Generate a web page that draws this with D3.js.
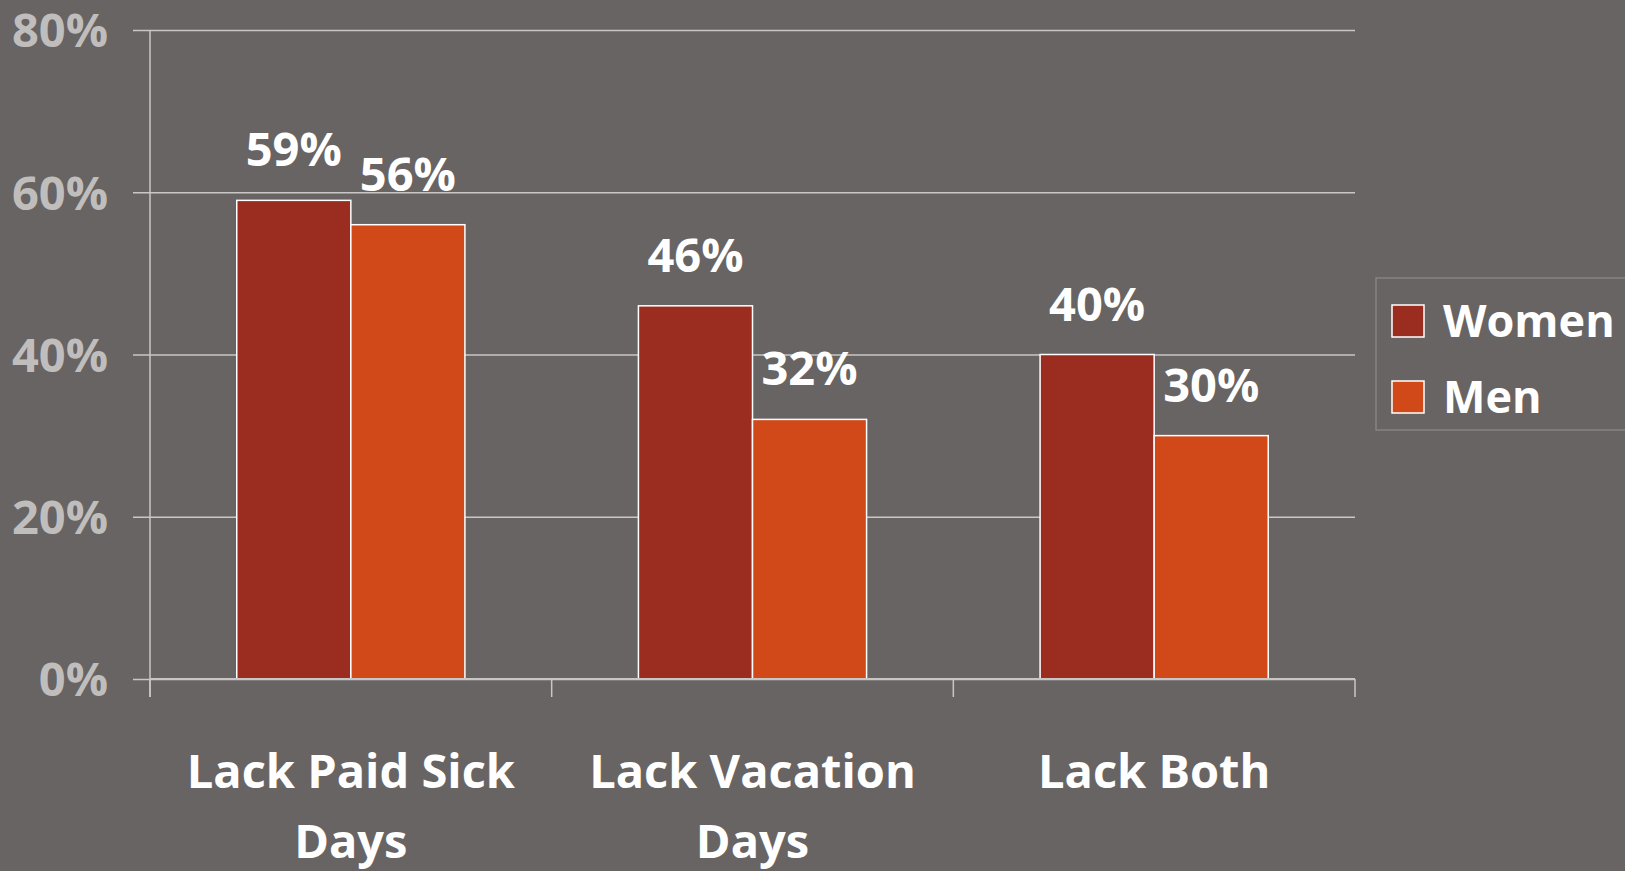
<!DOCTYPE html>
<meta charset="utf-8">
<style>
  body, html {
    margin: 0;
    padding: 0;
    background: #686463;
    overflow: hidden;
  }
  text {
    font-family: "Open Sans", "DejaVu Sans", sans-serif;
    font-weight: bold;
  }
</style>
<body>
<svg width="1625" height="871"></svg>
<script src="https://d3js.org/d3.v7.min.js"></script>
<script>
// chart values
var categories = ["Lack Paid Sick Days", "Lack Vacation Days", "Lack Both"];
var categoryLines = [["Lack Paid Sick", "Days"], ["Lack Vacation", "Days"], ["Lack Both"]];
var series = ["Women", "Men"];
var women = [0.59, 0.46, 0.40];
var men = [0.56, 0.32, 0.30];
var yTicks = [0, 0.2, 0.4, 0.6, 0.8];

var colors = {"Women": "#9a2c20", "Men": "#d14918"};

var rows = categories.map(function(c, i) {
  return {cat: c, Women: women[i], Men: men[i]};
});

var svg = d3.select("svg");
svg.append("rect").attr("width", 1625).attr("height", 871).attr("fill", "#686463");

var x = d3.scaleBand()
    .domain(categories)
    .range([150, 1355])
    .paddingInner(0)
    .paddingOuter(0);

var bw = x.bandwidth();
var x1 = d3.scaleBand()
    .domain(series)
    .range([bw * 0.216, bw * 0.784]);

var y = d3.scaleLinear()
    .domain([0, 0.8])
    .range([679, 30]);

var fmt = d3.format(".0%");

// gridlines
var grid = svg.append("g")
    .attr("transform", "translate(150,0)")
    .call(d3.axisLeft(y).tickValues(yTicks).tickSize(-(1355 - 150)).tickFormat(""));
grid.select(".domain").remove();
grid.selectAll(".tick line")
    .attr("x1", -17)
    .attr("stroke", "#c9c7c6")
    .attr("stroke-width", 1.5);

// y axis line
svg.append("line")
    .attr("x1", 150).attr("x2", 150)
    .attr("y1", y(0.8)).attr("y2", 697)
    .attr("stroke", "#c9c7c6")
    .attr("stroke-width", 1.5);

// y labels
svg.append("g").selectAll("text")
    .data(yTicks)
    .enter().append("text")
    .attr("x", 108)
    .attr("y", function(d) { return y(d); })
    .attr("dy", "0.37em")
    .attr("text-anchor", "end")
    .attr("fill", "#c0bebd")
    .style("font-size", "47px")
    .text(fmt);

// bars
var groups = svg.append("g").selectAll("g")
    .data(rows)
    .enter().append("g")
    .attr("transform", function(d) { return "translate(" + x(d.cat) + ",0)"; });

groups.selectAll("rect")
    .data(function(d) { return series.map(function(s) { return {key: s, value: d[s]}; }); })
    .enter().append("rect")
    .attr("x", function(d) { return x1(d.key); })
    .attr("y", function(d) { return y(d.value); })
    .attr("width", x1.bandwidth())
    .attr("height", function(d) { return y(0) - y(d.value); })
    .attr("fill", function(d) { return colors[d.key]; })
    .attr("stroke", "#ffffff")
    .attr("stroke-width", 1.5);

groups.selectAll("text")
    .data(function(d) { return series.map(function(s) { return {key: s, value: d[s]}; }); })
    .enter().append("text")
    .attr("x", function(d) { return x1(d.key) + x1.bandwidth() / 2; })
    .attr("y", function(d) { return y(d.value) - 34; })
    .attr("text-anchor", "middle")
    .attr("fill", "#ffffff")
    .style("font-size", "47px")
    .text(function(d) { return fmt(d.value); });

// x axis
var xAxis = svg.append("g")
    .attr("transform", "translate(0," + y(0) + ")");
xAxis.append("line")
    .attr("x1", 150).attr("x2", 1355)
    .attr("stroke", "#c9c7c6")
    .attr("stroke-width", 2);
xAxis.selectAll(".xtick")
    .data(categories.concat(["end"]))
    .enter().append("line")
    .attr("class", "xtick")
    .attr("x1", function(d) { return d == "end" ? x.range()[1] : x(d); })
    .attr("x2", function(d) { return d == "end" ? x.range()[1] : x(d); })
    .attr("y1", 0).attr("y2", 18)
    .attr("stroke", "#c9c7c6")
    .attr("stroke-width", 1.5);

var xl = xAxis.selectAll(".xlabel")
    .data(categories)
    .enter().append("text")
    .attr("class", "xlabel")
    .attr("text-anchor", "middle")
    .attr("fill", "#ffffff")
    .style("font-size", "47px")
    .attr("transform", function(d) { return "translate(" + (x(d) + bw / 2) + ",109)"; });
xl.selectAll("tspan")
    .data(function(d, i) { return categoryLines[i]; })
    .enter().append("tspan")
    .attr("x", 0)
    .attr("y", function(d, i) { return i * 70; })
    .text(function(d) { return d; });

// legend
var legend = svg.append("g").attr("transform", "translate(1376,278)");
legend.append("rect")
    .attr("width", 300)
    .attr("height", 152)
    .attr("fill", "none")
    .attr("stroke", "#878382")
    .attr("stroke-width", 1.5);
var li = legend.selectAll(".li")
    .data(series)
    .enter().append("g")
    .attr("class", "li")
    .attr("transform", function(d, i) { return "translate(16," + (27 + i * 76) + ")"; });
li.append("rect")
    .attr("width", 32)
    .attr("height", 32)
    .attr("fill", function(d) { return colors[d]; })
    .attr("stroke", "#ffffff")
    .attr("stroke-width", 1.5);
li.append("text")
    .attr("x", 51)
    .attr("y", 32)
    .attr("fill", "#ffffff")
    .style("font-size", "45px")
    .text(function(d) { return d; });
</script>
</body>
